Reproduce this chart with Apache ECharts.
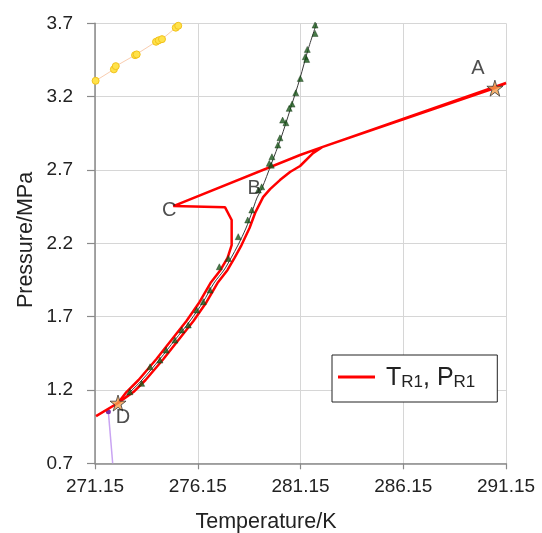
<!DOCTYPE html>
<html>
<head>
<meta charset="utf-8">
<script src="https://cdn.jsdelivr.net/npm/echarts@6/dist/echarts.min.js"></script>
<style>
  html, body { margin: 0; padding: 0; background: #ffffff; }
  #chart { width: 542px; height: 533px; }
</style>
</head>
<body>
<div id="chart"></div>
<script>
// Axis ticks
const tempTicks = [271.15, 276.15, 281.15, 286.15, 291.15];
const pressTicks = [0.7, 1.2, 1.7, 2.2, 2.7, 3.2, 3.7];

// Hydrate equilibrium curve (smooth line)
const eqT = [272.27, 272.85, 273.44, 274.31, 275.04, 275.77, 276.41, 276.94, 277.43, 277.77,
             278.11, 278.50, 278.79, 279.03, 279.28, 279.71, 280.20, 280.64, 281.13, 281.51, 281.93];
const eqP = [1.111, 1.186, 1.268, 1.411, 1.541, 1.670, 1.800, 1.929, 2.018, 2.100,
             2.188, 2.304, 2.413, 2.509, 2.577, 2.734, 2.918, 3.108, 3.327, 3.517, 3.700];

// Measured equilibrium points (green triangles)
const obsT = [281.86, 281.86, 281.48, 281.38, 281.45, 281.14, 280.92, 280.74, 280.60, 280.44,
              280.28, 280.15, 280.05, 279.76, 279.63, 279.73, 279.26, 279.10, 278.78, 278.58,
              278.12, 277.64, 277.20, 276.75, 276.42, 276.10, 275.69, 275.37, 275.04, 274.61,
              274.31, 273.83, 273.42, 272.85];
const obsP = [3.688, 3.631, 3.522, 3.472, 3.454, 3.324, 3.226, 3.149, 3.120, 3.022,
              3.040, 2.919, 2.870, 2.790, 2.745, 2.733, 2.585, 2.563, 2.427, 2.359,
              2.245, 2.097, 2.040, 1.881, 1.802, 1.745, 1.643, 1.609, 1.540, 1.472,
              1.404, 1.358, 1.245, 1.188];

// Reactor temperature / pressure trajectory
const runT = [271.20, 272.27, 273.02, 273.61, 274.48, 275.21, 275.94, 276.58, 277.11, 277.60,
              277.94, 278.28, 278.67, 278.96, 279.33, 279.67, 280.15, 280.64, 281.13, 281.76,
              282.20, 290.61, 291.15, 282.20, 281.13, 274.96, 277.48, 277.80, 277.80, 277.80,
              277.60, 277.26, 276.77, 276.24, 275.60, 274.87, 274.14, 273.27, 272.68, 272.27];
const runP = [1.022, 1.111, 1.186, 1.268, 1.411, 1.541, 1.670, 1.800, 1.929, 2.018,
              2.100, 2.188, 2.304, 2.413, 2.515, 2.569, 2.631, 2.686, 2.727, 2.815,
              2.856, 3.258, 3.293, 2.856, 2.802, 2.454, 2.445, 2.359, 2.243, 2.188,
              2.100, 2.018, 1.929, 1.800, 1.670, 1.541, 1.411, 1.268, 1.186, 1.111];

// Upper-left series (yellow circles)
const upperT = [271.18, 272.07, 272.16, 273.10, 273.18, 274.12, 274.25, 274.41, 275.08, 275.20];
const upperP = [3.308, 3.386, 3.408, 3.483, 3.488, 3.574, 3.584, 3.592, 3.670, 3.683];

// Lower-left series (purple)
const lowT = [271.80, 272.01];
const lowP = [1.052, 0.700];

// Labelled states
const stateNames = ['A', 'B', 'C', 'D'];
const stateT = [290.61, 279.33, 274.96, 272.27];
const stateP = [3.258, 2.515, 2.454, 1.111];
const stateOffsets = [[-17, -20], [-9, -9], [-4, 4], [5, 14]];

const FONT = 'Liberation Sans, Arial, sans-serif';
const zip = (a, b) => a.map((v, i) => [v, b[i]]);
const STAR = 'path://M50,0 L61,35 L98,35 L68,57 L79,91 L50,70 L21,91 L32,57 L2,35 L39,35 Z';

const chart = echarts.init(document.getElementById('chart'), null, { renderer: 'canvas' });

const option = {
  animation: false,
  backgroundColor: '#ffffff',
  grid: { left: 95, right: 36, top: 23.3, bottom: 69.7, containLabel: false },
  xAxis: {
    type: 'value',
    min: tempTicks[0],
    max: tempTicks[tempTicks.length - 1],
    interval: 5,
    axisLine: { show: true, onZero: false, lineStyle: { color: '#8a8a8a', width: 1.5 } },
    axisTick: { show: true, length: 6, lineStyle: { color: '#8a8a8a', width: 1.2 } },
    axisLabel: { fontSize: 19, color: '#222', fontFamily: FONT, margin: 14,
                 formatter: v => v.toFixed(2) },
    splitLine: { show: true, lineStyle: { color: '#d6d6d6', width: 1 } }
  },
  yAxis: {
    type: 'value',
    min: pressTicks[0],
    max: pressTicks[pressTicks.length - 1],
    interval: 0.5,
    axisLine: { show: true, onZero: false, lineStyle: { color: '#8a8a8a', width: 1.5 } },
    axisTick: { show: true, length: 8, lineStyle: { color: '#8a8a8a', width: 1.2 } },
    axisLabel: { fontSize: 19, color: '#222', fontFamily: FONT, margin: 22,
                 formatter: v => v.toFixed(1) },
    splitLine: { show: true, lineStyle: { color: '#d6d6d6', width: 1 } }
  },
  legend: {
    data: ['TR1, PR1'],
    left: 332, top: 355,
    backgroundColor: '#ffffff',
    borderColor: '#222', borderWidth: 1, borderRadius: 0,
    padding: [11, 22, 11, 6],
    itemWidth: 37, itemHeight: 3,
    icon: 'rect',
    formatter: () => '{b|T}{s|R1}{b|, P}{s|R1}',
    textStyle: {
      fontFamily: FONT, color: '#222', padding: [0, 0, 0, 6],
      rich: {
        b: { fontSize: 25, fontFamily: FONT, color: '#222', verticalAlign: 'bottom', lineHeight: 28 },
        s: { fontSize: 17, fontFamily: FONT, color: '#222', verticalAlign: 'bottom', lineHeight: 22 }
      }
    }
  },
  graphic: [
    { type: 'text', x: 266, y: 522,
      style: { text: 'Temperature/K', fontSize: 21.5, fontFamily: FONT, fill: '#222',
               textAlign: 'center', textVerticalAlign: 'middle', align: 'center', verticalAlign: 'middle' } },
    { type: 'text', x: 26, y: 240, rotation: Math.PI / 2,
      style: { text: 'Pressure/MPa', fontSize: 21.5, fontFamily: FONT, fill: '#222',
               textAlign: 'center', textVerticalAlign: 'middle', align: 'center', verticalAlign: 'middle' } }
  ],
  series: [
    {
      name: 'upper', type: 'line', data: zip(upperT, upperP), z: 2,
      lineStyle: { color: '#f9cdb0', width: 1 },
      symbol: 'circle', symbolSize: 7,
      itemStyle: { color: '#ffe24a', borderColor: '#f2c21c', borderWidth: 1 }
    },
    {
      name: 'low', type: 'line', z: 2,
      data: zip(lowT, lowP).map((v, i) => ({ value: v, symbol: i === 0 ? 'circle' : 'none' })),
      lineStyle: { color: '#c9a4f2', width: 1.5 },
      symbolSize: 5,
      itemStyle: { color: '#7b2fa8' }
    },
    {
      name: 'equilibrium', type: 'line', data: zip(eqT, eqP), z: 3,
      smooth: 0.3, symbol: 'none',
      lineStyle: { color: '#3a3a3a', width: 1 }
    },
    {
      name: 'TR1, PR1', type: 'line', data: zip(runT, runP), z: 4,
      symbol: 'none', smooth: false,
      lineStyle: { color: '#ff0000', width: 2.5 },
      itemStyle: { color: '#ff0000' }
    },
    {
      name: 'observed', type: 'scatter', data: zip(obsT, obsP), z: 5,
      symbol: 'triangle', symbolSize: 6,
      itemStyle: { color: '#1c5a1c', borderColor: '#0a2a0a', borderWidth: 0.5 }
    },
    {
      name: 'states', type: 'scatter', z: 6,
      data: stateNames.map((n, i) => ({
        name: n, value: [stateT[i], stateP[i]],
        symbol: (n === 'A' || n === 'D') ? STAR : 'circle',
        symbolSize: (n === 'A' || n === 'D') ? 16 : 0.1,
        itemStyle: (n === 'A' || n === 'D')
          ? { color: '#f2a04e', borderColor: '#3a3a3a', borderWidth: 1 }
          : { color: 'rgba(0,0,0,0)' },
        label: { show: true, position: 'inside', offset: stateOffsets[i], formatter: n,
                 fontSize: 20, fontFamily: FONT, color: '#222' }
      }))
    }
  ]
};

chart.setOption(option);
</script>
</body>
</html>
